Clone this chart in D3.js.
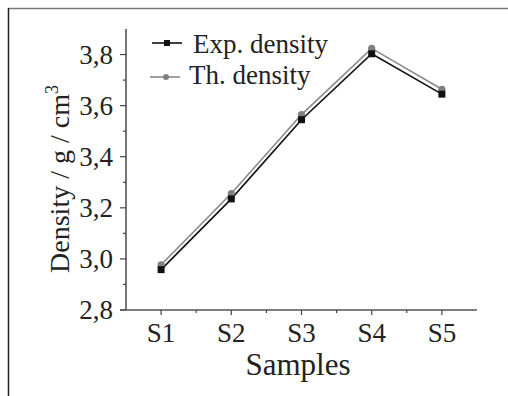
<!DOCTYPE html>
<html><head><meta charset="utf-8">
<script src="https://cdn.jsdelivr.net/npm/d3@7"></script>
<style>body{margin:0;background:#fff}svg{display:block}text{font-family:"Liberation Serif","Times New Roman",serif;fill:#222}</style>
</head><body><svg id="c" width="508" height="396"></svg>
<script>
const samples = ["S1","S2","S3","S4","S5"];
const expDensity = [2.958, 3.235, 3.545, 3.803, 3.645];
const thDensity = [2.977, 3.256, 3.565, 3.824, 3.664];
const yTicks = [2.8, 3.0, 3.2, 3.4, 3.6, 3.8];
const seriesNames = ["Exp. density", "Th. density"];

(function(){
const svg = d3.select("#c");
// frame
svg.append("line").attr("x1",8).attr("y1",8.5).attr("x2",508).attr("y2",8.5).attr("stroke","#777").attr("stroke-width",1.5);
svg.append("line").attr("x1",8.5).attr("y1",8).attr("x2",8.5).attr("y2",396).attr("stroke","#222").attr("stroke-width",1.5);

const mL=126, mR=477, mT=29, mB=310;
const x = d3.scalePoint().domain(samples).range([mL,mR]).padding(0.5);
const y = d3.scaleLinear().domain([2.8,3.9]).range([mB,mT]);

// y axis
const gy = svg.append("g").attr("transform",`translate(${mL},0)`);
gy.append("line").attr("x1",0).attr("x2",0).attr("y1",y(3.9)).attr("y2",mB).attr("stroke","#555").attr("stroke-width",1.6);
const minorY = d3.range(2.9,3.9,0.2);
gy.selectAll(".mn").data(minorY).join("line").attr("x1",-3).attr("x2",0).attr("y1",d=>y(d)).attr("y2",d=>y(d)).attr("stroke","#444").attr("stroke-width",1.2);
gy.selectAll(".mj").data(yTicks).join("line").attr("x1",-6).attr("x2",0).attr("y1",d=>y(d)).attr("y2",d=>y(d)).attr("stroke","#444").attr("stroke-width",1.2);
gy.selectAll(".lb").data(yTicks).join("text").attr("x",-13).attr("y",d=>y(d)+9).attr("text-anchor","end").attr("font-size",27).text(d=>d.toFixed(1).replace(".",","));

// x axis
const gx = svg.append("g").attr("transform",`translate(0,${mB})`);
gx.append("line").attr("x1",mL-6).attr("x2",mR).attr("y1",0).attr("y2",0).attr("stroke","#555").attr("stroke-width",1.6);
const step = x.step();
const minorX = samples.slice(0,4).map(s=>x(s)+step/2);
gx.selectAll(".mn").data(minorX).join("line").attr("x1",d=>d).attr("x2",d=>d).attr("y1",0).attr("y2",3).attr("stroke","#444").attr("stroke-width",1.2);
gx.selectAll(".mj").data(samples).join("line").attr("x1",d=>x(d)).attr("x2",d=>x(d)).attr("y1",0).attr("y2",5).attr("stroke","#444").attr("stroke-width",1.2);
gx.selectAll(".lb").data(samples).join("text").attr("x",d=>x(d)).attr("y",32).attr("text-anchor","middle").attr("font-size",27).text(d=>d);

// titles
svg.append("text").attr("x",298).attr("y",375).attr("text-anchor","middle").attr("font-size",31).text("Samples");
const yt = svg.append("text").attr("transform","translate(69,179) rotate(-90)").attr("text-anchor","middle").attr("font-size",28);
yt.append("tspan").text("Density / g / cm");
yt.append("tspan").attr("font-size",18).attr("dy",-11).text("3");

// lines
const line = d3.line().x((d,i)=>x(samples[i])).y(d=>y(d));
svg.append("path").attr("d",line(thDensity)).attr("fill","none").attr("stroke","#8a8a8a").attr("stroke-width",1.6);
svg.append("path").attr("d",line(expDensity)).attr("fill","none").attr("stroke","#111").attr("stroke-width",1.6);
svg.selectAll(".th").data(thDensity).join("circle").attr("cx",(d,i)=>x(samples[i])).attr("cy",d=>y(d)).attr("r",3.6).attr("fill","#808080");
svg.selectAll(".ex").data(expDensity).join("rect").attr("x",(d,i)=>x(samples[i])-3.5).attr("y",d=>y(d)-3.5).attr("width",7).attr("height",7).attr("fill","#111");

// legend
const lg = svg.append("g");
lg.append("line").attr("x1",152).attr("x2",182).attr("y1",43).attr("y2",43).attr("stroke","#111").attr("stroke-width",1.6);
lg.append("rect").attr("x",164).attr("y",40).attr("width",6).attr("height",6).attr("fill","#111");
lg.append("text").attr("x",193).attr("y",53).attr("font-size",27).text(seriesNames[0]);
lg.append("line").attr("x1",150).attr("x2",180).attr("y1",77).attr("y2",77).attr("stroke","#8a8a8a").attr("stroke-width",1.6);
lg.append("circle").attr("cx",166).attr("cy",77).attr("r",3).attr("fill","#808080");
lg.append("text").attr("x",189).attr("y",84).attr("font-size",27).text(seriesNames[1]);
})();
</script></body></html>
